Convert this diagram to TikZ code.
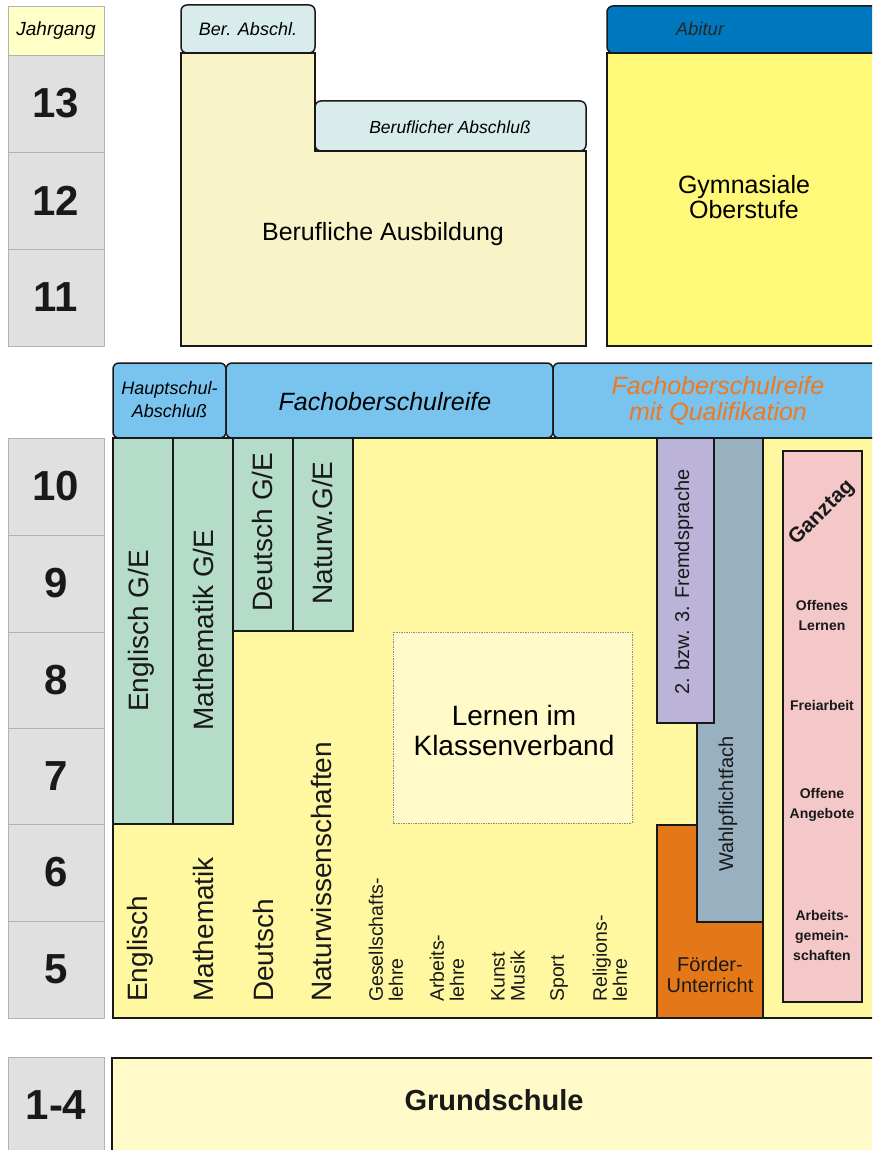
\documentclass[tikz,border=0pt]{standalone}
\usepackage{fontspec}
\setmainfont{Liberation Sans}

\definecolor{jahrgelb}{HTML}{FFFFC8}
\definecolor{zellgrau}{HTML}{E0E0E0}
\definecolor{abschlblau}{HTML}{D8ECEC}
\definecolor{berufgelb}{HTML}{F8F4C8}
\definecolor{abiblau}{HTML}{0078C0}
\definecolor{gymgelb}{HTML}{FFF878}
\definecolor{reifeblau}{HTML}{78C4EE}
\definecolor{hauptgelb}{HTML}{FFF8A0}
\definecolor{gegruen}{HTML}{B4DCC8}
\definecolor{klassgelb}{HTML}{FFFAC8}
\definecolor{fslila}{HTML}{BCB4D8}
\definecolor{wpfgrau}{HTML}{98B0C0}
\definecolor{foerderorange}{HTML}{E47818}
\definecolor{ganzrosa}{HTML}{F4C8C8}
\definecolor{qualiorange}{HTML}{F07820}

\newcommand\schrift[2]{\fontsize{#1}{#2}\selectfont}

\begin{document}
\begin{tikzpicture}[x=1pt,y=-1pt]


\tikzset{
	rand/.style={draw=black!90, line width=2.5pt},
	reiter/.style={draw=black!90, line width=1.5pt, rounded corners=6pt},
	zelle/.style={draw=black!30, line width=0.8pt, fill=zellgrau, minimum width=96pt, inner sep=0pt},
	zahl/.style={font=\schrift{42}{42}\bfseries, text=black!90},
	hoch/.style={rotate=90, inner sep=0pt, text=black!90, font=\schrift{28}{28}},
	quer/.style={rotate=90, anchor=west, align=left, inner sep=0pt, text=black!90},
	klein/.style={font=\schrift{14}{20}\bfseries, align=center, text=black!90}
}

\useasboundingbox (0,0) rectangle (872,1150);
\clip (0,0) rectangle (872,1150);

% Jahrgaenge
\node[zelle, fill=jahrgelb, minimum height=49pt, font=\schrift{19}{19}\itshape] (jahrgang) at (56,30.5) {Jahrgang};
\foreach \nr/\oben in {13/55,12/152,11/249,10/438,9/535,8/632,7/728,6/824,5/921}
	\node[zelle, zahl, minimum height=97pt] (j\nr) at (56,\oben+48.5) {\nr};
\node[zelle, zahl, minimum height=96pt] (j14) at (56,1105) {1-4};

% Sekundarstufe II
\draw[rand, fill=berufgelb] (181,53) -- (315,53) -- (315,151) -- (586,151) -- (586,346) -- (181,346) -- cycle;
\draw[reiter, fill=abschlblau] (181,5) rectangle (315,53);
\draw[reiter, fill=abschlblau] (315,101) rectangle (586,151);
\node[font=\schrift{18}{18}\itshape] (berabschl) at (248,29) {Ber. Abschl.};
\node[font=\schrift{17.5}{18}\itshape] (berufabschl) at (450,127) {Beruflicher Abschluß};
\node[font=\schrift{25}{25}] (ausbildung) at (383,234) {Berufliche Ausbildung};

\draw[rand, fill=gymgelb] (607,53) rectangle (895,346);
\draw[reiter, fill=abiblau] (607,6) rectangle (895,53);
\node[font=\schrift{18.5}{18}\itshape, text=black!85] (abitur) at (700,29) {Abitur};
\node[font=\schrift{25}{25}, align=center] (oberstufe) at (744,197) {Gymnasiale\\Oberstufe};

% Abschluesse
\draw[reiter, fill=reifeblau] (113,363) rectangle (226,438);
\draw[reiter, fill=reifeblau] (226,363) rectangle (553,438);
\draw[reiter, fill=reifeblau] (553,363) rectangle (895,438);
\node[font=\schrift{18}{23}\itshape, align=center] (hauptschul) at (169.5,400) {Hauptschul-\\Abschluß};
\node[font=\schrift{25}{25}\itshape] (fachober) at (385,402) {Fachoberschulreife};
\node[font=\schrift{25}{26}\itshape, align=center, text=qualiorange] (fachoberq) at (718,401) {Fachoberschulreife\\mit Qualifikation};

% Klassen 5-10
\draw[rand, fill=hauptgelb] (113,438) rectangle (895,1018);
\foreach \li/\re/\un in {113/173/824,173/233/824,233/293/631,293/353/631}
	\draw[rand, fill=gegruen] (\li,438) rectangle (\re,\un);
\node[hoch] (englge) at (141,631) {Englisch G/E};
\node[hoch] (mathge) at (203,630) {Mathematik G/E};
\node[hoch] (deutge) at (262.5,532) {Deutsch G/E};
\node[hoch] (natge) at (322.5,533) {Naturw.G/E};

\draw[draw=black!45, densely dotted, line width=0.7pt, fill=klassgelb] (393,632) rectangle (632,823);
\node[font=\schrift{28}{30}, align=center] (klasse) at (514,730) {Lernen im\\Klassenverband};

\node[quer, font=\schrift{28}{28}] (engl) at (140,1002) {Englisch};
\node[quer, font=\schrift{28}{28}] (mathe) at (203,1002) {Mathematik};
\node[quer, font=\schrift{28}{28}] (deutsch) at (263,1002) {Deutsch};
\node[quer, font=\schrift{28}{28}] (natur) at (321,1002) {Naturwissenschaften};
\node[quer, font=\schrift{19.5}{20}] (gesell) at (386,1002) {Gesellschafts-\\lehre};
\node[quer, font=\schrift{19.5}{20}] (arbeit) at (447,1002) {Arbeits-\\lehre};
\node[quer, font=\schrift{19.5}{20}] (kunst) at (508,1002) {Kunst\\Musik};
\node[quer, font=\schrift{19.5}{20}] (sport) at (559,1002) {Sport};
\node[quer, font=\schrift{19.5}{20}] (religion) at (610,1002) {Religions-\\lehre};

% Wahlpflicht, Fremdsprache, Foerderung
\draw[rand, fill=wpfgrau] (714,438) -- (763,438) -- (763,922) -- (697,922) -- (697,723) -- (714,723) -- cycle;
\draw[rand, fill=fslila] (657,438) rectangle (714,723);
\draw[rand, fill=foerderorange] (657,825) -- (697,825) -- (697,922) -- (763,922) -- (763,1018) -- (657,1018) -- cycle;
\draw[rand] (763,438) -- (763,1018);
\node[hoch, font=\schrift{20}{20}] (fremd) at (684,582) {2. bzw. 3. Fremdsprache};
\node[hoch, font=\schrift{20}{20}] (wpf) at (728,804) {Wahlpflichtfach};
\node[font=\schrift{20}{21}, align=center, text=black!90] (foerder) at (710,975) {Förder-\\Unterricht};

% Ganztag
\draw[rand, fill=ganzrosa] (783,451) rectangle (862,1002);
\node[rotate=45, font=\schrift{21}{21}\bfseries, text=black!90] (ganztag) at (822,513) {Ganztag};
\node[klein] (offlern) at (822,615) {Offenes\\Lernen};
\node[klein] (freiarb) at (822,705) {Freiarbeit};
\node[klein] (offang) at (822,805) {Offene\\Angebote};
\node[klein] (ags) at (822,935) {Arbeits-\\gemein-\\schaften};

% Grundschule
\draw[rand, fill=klassgelb] (112,1058) rectangle (895,1170);
\node[font=\schrift{29}{29}\bfseries, text=black!90] (grund) at (494,1100) {Grundschule};

\end{tikzpicture}
\end{document}
